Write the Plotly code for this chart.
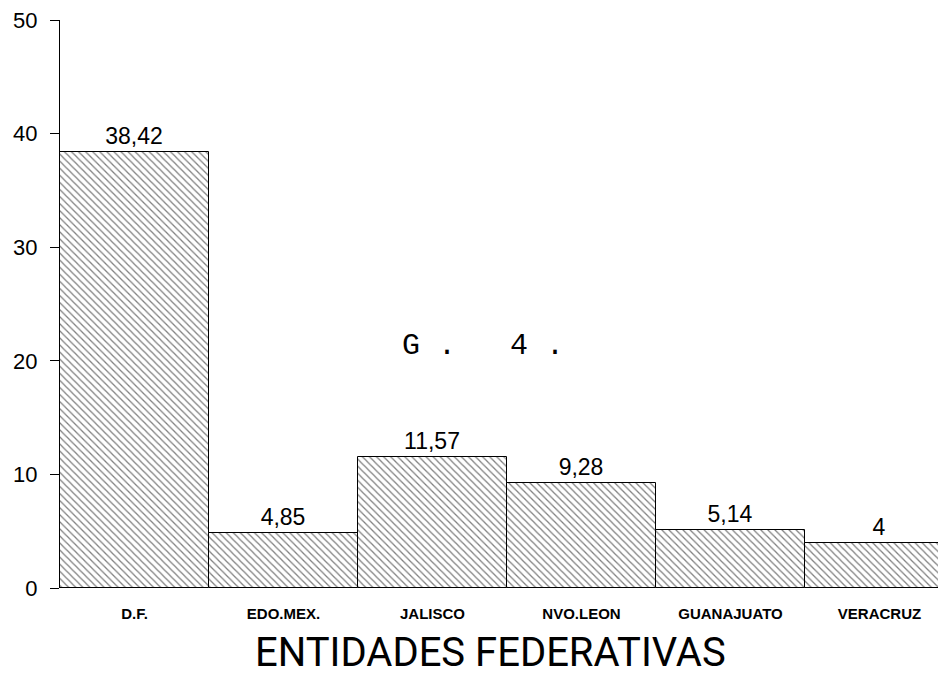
import plotly.graph_objects as go

categories = ["D.F.", "EDO.MEX.", "JALISCO", "NVO.LEON", "GUANAJUATO", "VERACRUZ"]
values = [38.42, 4.85, 11.57, 9.28, 5.14, 4]
value_labels = ["38,42", "4,85", "11,57", "9,28", "5,14", "4"]
y_ticks = [0, 10, 20, 30, 40, 50]

fig = go.Figure()
fig.add_trace(go.Bar(
    x=list(range(len(categories))), y=values,
    text=value_labels, textposition="outside", cliponaxis=False,
    textfont=dict(family="Arial, Liberation Sans", size=23, color="black"),
    marker=dict(color="white", line=dict(color="black", width=1),
                pattern=dict(shape="\\", fgcolor="black", bgcolor="white", size=5, solidity=0.25)),
    width=1.0, showlegend=False,
))

fig.update_layout(
    width=946, height=675,
    margin=dict(l=52, r=0, t=12, b=95, autoexpand=False),
    plot_bgcolor="white", paper_bgcolor="white",
    bargap=0,
    xaxis=dict(
        tickmode="array", tickvals=list(range(len(categories))), ticktext=categories,
        range=[-0.5, 5.5], showgrid=False, zeroline=False, showline=False, ticks="",
        tickfont=dict(family="Arial, Liberation Sans", size=15, color="black", weight="bold"),
        ticklabelstandoff=15, automargin=False, ticklabeloverflow="allow",
    ),
    yaxis=dict(
        range=[0, 50], tickvals=y_ticks, showgrid=False, zeroline=False,
        showline=True, linecolor="black", linewidth=1, automargin=False,
        ticks="outside", ticklen=9, tickcolor="black", tickwidth=1,
        tickfont=dict(family="Arial, Liberation Sans", size=22, color="black"),
        ticklabelstandoff=8, ticklabeloverflow="allow",
    ),
    yaxis2=dict(
        range=[0, 50], tickvals=y_ticks, overlaying="y", side="left", anchor="x",
        showgrid=False, zeroline=False, showline=False, showticklabels=False,
        ticks="inside", ticklen=11, tickcolor="black", tickwidth=1, automargin=False,
    ),
    annotations=[
        dict(text="G .   4 .", x=2.34, y=21.3, xref="x", yref="y", showarrow=False,
             font=dict(family="Liberation Mono, Courier New, monospace", size=30, color="black")),
        dict(text="ENTIDADES FEDERATIVAS", x=0.481, y=-0.113, xref="paper", yref="paper",
             xanchor="center", yanchor="middle", showarrow=False,
             font=dict(family="Roboto, Arial", size=40, color="black")),
    ],
)

fig.write_html("out.html")
